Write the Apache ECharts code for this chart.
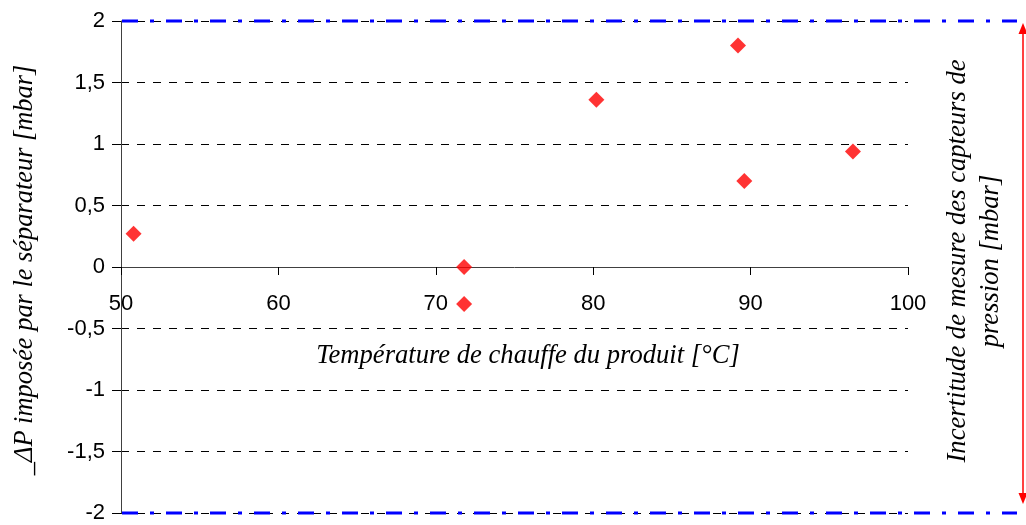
<!DOCTYPE html>
<html>
<head>
<meta charset="utf-8">
<script src="https://cdn.jsdelivr.net/npm/echarts@6/dist/echarts.min.js"></script>
<style>
html,body{margin:0;padding:0;background:#fff;}
#c{width:1026px;height:525px;}
</style>
</head>
<body>
<div id="c"></div>
<script>
// Data
const temperatures = [50.8, 71.8, 71.8, 80.2, 89.2, 89.6, 96.5];
const deltaP = [0.27, 0, -0.30, 1.36, 1.80, 0.70, 0.94];
const uncertaintyBounds = [2, -2];
const xTitle = 'Température de chauffe du produit [°C]';
const yTitle = '_ΔP imposée par le séparateur [mbar]';
const rightTitle = 'Incertitude de mesure des capteurs de\npression [mbar]';

const points = temperatures.map((t, i) => [t, deltaP[i]]);
const chart = echarts.init(document.getElementById('c'), null, {renderer: 'canvas'});
const serif = '"Liberation Serif", "Times New Roman", serif';
const sans = '"Liberation Sans", Arial, sans-serif';

const gridTop = 21, gridBottom = 12;
const gridHeight = 525 - gridTop - gridBottom;
// y range is symmetric (-2..2) so the zero line sits at mid-height
const zeroOffset = -gridHeight / 2;

chart.setOption({
  animation: false,
  backgroundColor: '#fff',
  grid: {left: 121, right: 118, top: gridTop, bottom: gridBottom, containLabel: false, outerBoundsMode: 'none'},
  xAxis: {
    type: 'value', min: 50, max: 100, interval: 10, position: 'bottom', offset: zeroOffset,
    axisLine: {onZero: false, lineStyle: {color: '#404040', width: 1}},
    axisTick: {show: true, inside: false, length: 8, lineStyle: {color: '#000'}},
    axisLabel: {margin: 26, color: '#000', fontFamily: sans, fontSize: 22},
    splitLine: {show: false}
  },
  yAxis: {
    type: 'value', min: -2, max: 2, interval: 0.5,
    axisLine: {show: true, lineStyle: {color: '#404040', width: 1}},
    axisTick: {show: true, inside: false, length: 9, lineStyle: {color: '#000'}},
    axisLabel: {margin: 16, color: '#000', fontFamily: sans, fontSize: 22,
      formatter: v => String(v).replace('.', ',')},
    splitLine: {show: true, lineStyle: {color: '#000', type: [8, 8], width: 1}}
  },
  series: [{
    type: 'scatter', data: points, symbol: 'diamond', symbolSize: 16,
    itemStyle: {color: '#ff0000'}, z: 5
  }]
});

function addGraphics() {
  const top = chart.convertToPixel({gridIndex: 0}, [50, uncertaintyBounds[0]]);
  const bot = chart.convertToPixel({gridIndex: 0}, [50, uncertaintyBounds[1]]);
  const xLeft = top[0] + 1;
  const xRight = 1017;
  const arrowX = 1023;
  const yTop = top[1], yBot = bot[1];
  const g = [];
  [yTop, yBot].forEach(y => {
    g.push({type: 'line', shape: {x1: xLeft, y1: y, x2: xRight, y2: y},
      style: {stroke: '#0000ff', lineWidth: 3, lineDash: [16, 12, 4, 12]}, z: 10});
  });
  const a1 = yTop + 2, a2 = yBot - 9;
  g.push({type: 'line', shape: {x1: arrowX, y1: a1 + 6, x2: arrowX, y2: a2 - 6},
    style: {stroke: '#ff0000', lineWidth: 1.5}, z: 10});
  g.push({type: 'polygon', shape: {points: [[arrowX, a1], [arrowX - 4.5, a1 + 11], [arrowX + 4.5, a1 + 11]]},
    style: {fill: '#ff0000'}, z: 10});
  g.push({type: 'polygon', shape: {points: [[arrowX, a2], [arrowX - 4.5, a2 - 11], [arrowX + 4.5, a2 - 11]]},
    style: {fill: '#ff0000'}, z: 10});
  // axis titles
  g.push({type: 'text', x: 528, y: 356, style: {text: xTitle, font: 'italic 26.6px ' + serif,
    fill: '#000', align: 'center', verticalAlign: 'middle'}});
  g.push({type: 'text', x: 25, y: 270, rotation: Math.PI / 2, style: {text: yTitle,
    font: 'italic 26.4px ' + serif, fill: '#000', align: 'center', verticalAlign: 'middle'}});
  g.push({type: 'text', x: 974, y: 261, rotation: Math.PI / 2, style: {text: rightTitle,
    font: 'italic 26.6px ' + serif, lineHeight: 33, fill: '#000', align: 'center', verticalAlign: 'middle'}});
  chart.setOption({graphic: {elements: g}});
}
addGraphics();
</script>
</body>
</html>
